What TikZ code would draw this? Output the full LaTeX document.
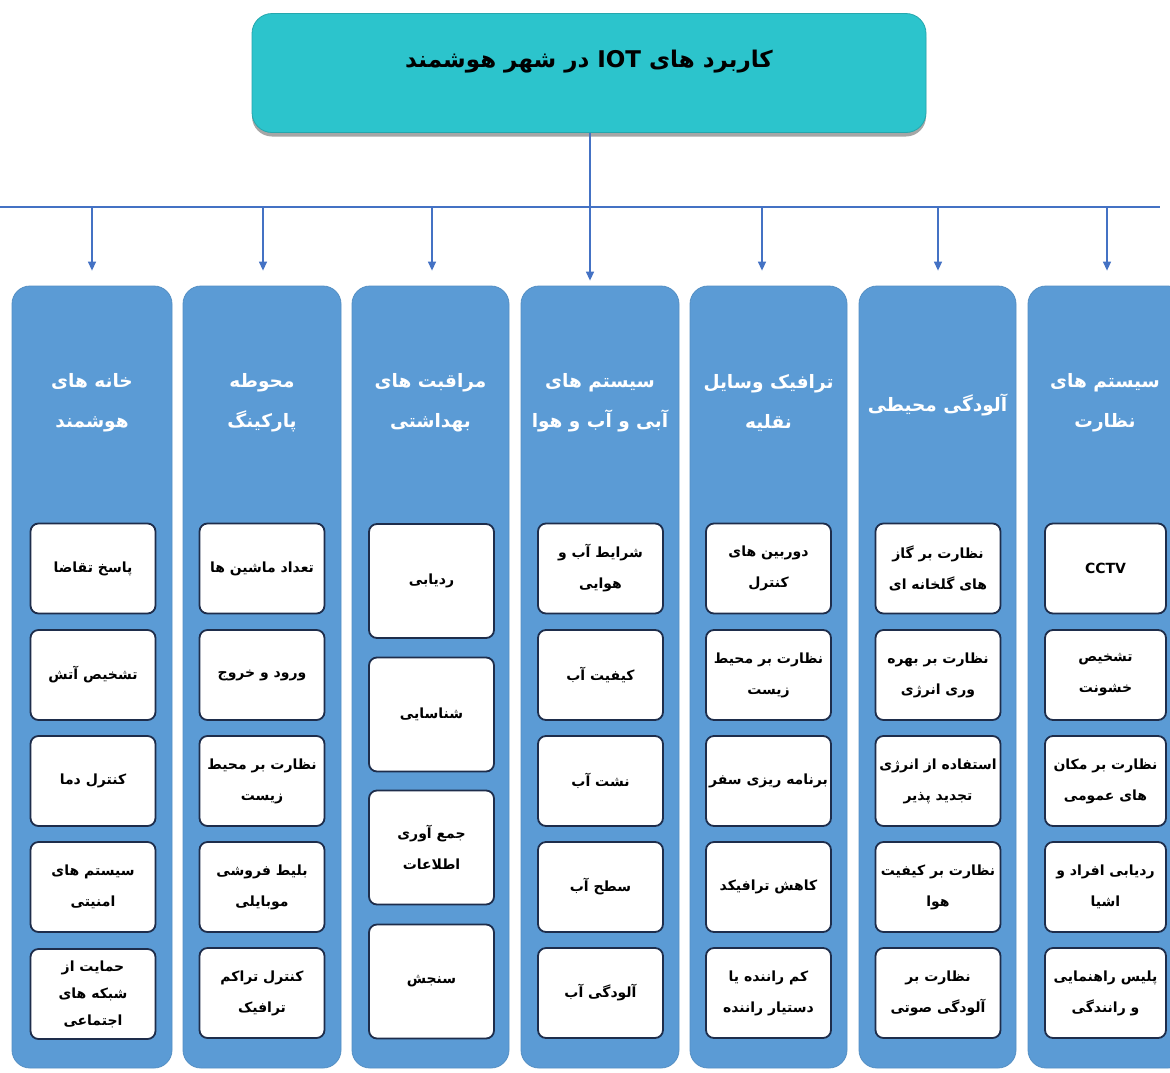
\documentclass[tikz,border=0pt]{standalone}
\usepackage{fontspec}
\usetikzlibrary{arrows.meta,shadows}
\TeXXeTstate=1
\newfontfamily\fafont[Script=Arabic]{DejaVu Sans}
\newcommand{\rl}[1]{\beginR #1\endR}
\definecolor{titlefill}{RGB}{44,196,204}
\definecolor{colfill}{RGB}{91,155,213}
\definecolor{arrowc}{RGB}{68,114,196}
\definecolor{boxline}{RGB}{30,45,75}
\begin{document}
\begin{tikzpicture}[x=1pt,y=-1pt,
  titlebox/.style={fill=titlefill, draw=titlefill!85!black, line width=0.8pt, rounded corners=20pt,
    minimum width=674pt, minimum height=119pt, inner sep=0pt,
    drop shadow={shadow xshift=0pt, shadow yshift=-4pt, opacity=0.35, fill=black}},
  titletext/.style={font=\fafont\bfseries\fontsize{23}{28}\selectfont, text=black},
  column/.style={fill=colfill, draw=colfill!92!black, line width=0.8pt, rounded corners=18pt,
    minimum height=782pt, inner sep=0pt},
  header/.style={font=\fafont\bfseries\fontsize{18.5}{40}\selectfont, text=white, align=center},
  item/.style={fill=white, draw=boxline, line width=1.8pt, rounded corners=8pt,
    minimum width=125pt, minimum height=90pt, inner sep=2pt, align=center,
    font=\fafont\bfseries\fontsize{14}{31}\selectfont},
  itemtall/.style={item, minimum height=114pt},
  arr/.style={draw=arrowc, line width=1.3pt, -{Triangle[length=9pt,width=8pt]}},
  hline/.style={draw=arrowc, line width=1.3pt}]
\useasboundingbox (0,0) rectangle (1170,1072);
\fill[white] (0,0) rectangle (1170,1072);

% title
\node[titlebox] (T) at (589,73) {};
\node[titletext] (TT) at (589,62) {\rl{کاربرد های \beginL IOT\endL{} در شهر هوشمند}};

% columns
\node[column, minimum width=160pt] (c1) at (92,677) {};
\node[column, minimum width=158pt] (c2) at (262,677) {};
\node[column, minimum width=157pt] (c3) at (430.5,677) {};
\node[column, minimum width=158pt] (c4) at (600,677) {};
\node[column, minimum width=157pt] (c5) at (768.5,677) {};
\node[column, minimum width=157pt] (c6) at (937.5,677) {};
\node[column, minimum width=158pt] (c7) at (1107,677) {};

% connectors
\coordinate (hl) at (0,207);
\coordinate (hr) at (1160,207);
\draw[hline] (hl) -- (hr);
\coordinate (a1) at (92,207);
\coordinate (a2) at (263,207);
\coordinate (a3) at (432,207);
\coordinate (a5) at (762,207);
\coordinate (a6) at (938,207);
\coordinate (a7) at (1107,207);
\foreach \i in {1,2,3,5,6,7}{
  \draw[arr, shorten >=15pt] (a\i) -- (a\i |- c\i.north);
}
\draw[arr, shorten >=5pt] (T.south -| 590,0) -- (590,0 |- c4.north);

% headers
\node[header] (h1) at (92,403) {\rl{خانه های}\\\rl{هوشمند}};
\node[header] (h2) at (262,403) {\rl{محوطه}\\\rl{پارکینگ}};
\node[header] (h3) at (430.5,403) {\rl{مراقبت های}\\\rl{بهداشتی}};
\node[header] (h4) at (600,403) {\rl{سیستم های}\\\rl{آبی و آب و هوا}};
\node[header] (h5) at (768.5,403) {\rl{ترافیک وسایل}\\\rl{نقلیه}};
\node[header] (h6) at (937.5,405) {\rl{آلودگی محیطی}};
\node[header] (h7) at (1105,403) {\rl{سیستم های}\\\rl{نظارت}};

% column 1
\node[item] (b11) at (93,568.5) {\rl{پاسخ تقاضا}};
\node[item] (b12) at (93,675) {\rl{تشخیص آتش}};
\node[item] (b13) at (93,781) {\rl{کنترل دما}};
\node[item] (b14) at (93,887) {\rl{سیستم های}\\\rl{امنیتی}};
\node[item, font=\fafont\bfseries\fontsize{14}{27}\selectfont] (b15) at (93,994) {\rl{حمایت از}\\\rl{شبکه های}\\\rl{اجتماعی}};

% column 2
\node[item] (b21) at (262,568.5) {\rl{تعداد ماشین ها}};
\node[item] (b22) at (262,675) {\rl{ورود و خروج}};
\node[item] (b23) at (262,781) {\rl{نظارت بر محیط}\\\rl{زیست}};
\node[item] (b24) at (262,887) {\rl{بلیط فروشی}\\\rl{موبایلی}};
\node[item] (b25) at (262,993) {\rl{کنترل تراکم}\\\rl{ترافیک}};

% column 3
\node[itemtall] (b31) at (431.5,581) {\rl{ردیابی}};
\node[itemtall] (b32) at (431.5,714.5) {\rl{شناسایی}};
\node[itemtall] (b33) at (431.5,847.5) {\rl{جمع آوری}\\\rl{اطلاعات}};
\node[itemtall] (b34) at (431.5,981.5) {\rl{سنجش}};

% column 4
\node[item] (b41) at (600.5,568.5) {\rl{شرایط آب و}\\\rl{هوایی}};
\node[item] (b42) at (600.5,675) {\rl{کیفیت آب}};
\node[item] (b43) at (600.5,781) {\rl{نشت آب}};
\node[item] (b44) at (600.5,887) {\rl{سطح آب}};
\node[item] (b45) at (600.5,993) {\rl{آلودگی آب}};

% column 5
\node[item] (b51) at (768.5,568.5) {\rl{دوربین های}\\\rl{کنترل}};
\node[item] (b52) at (768.5,675) {\rl{نظارت بر محیط}\\\rl{زیست}};
\node[item] (b53) at (768.5,781) {\rl{برنامه ریزی سفر}};
\node[item] (b54) at (768.5,887) {\rl{کاهش ترافیکد}};
\node[item] (b55) at (768.5,993) {\rl{کم راننده یا}\\\rl{دستیار راننده}};

% column 6
\node[item] (b61) at (938,568.5) {\rl{نظارت بر گاز}\\\rl{های گلخانه ای}};
\node[item] (b62) at (938,675) {\rl{نظارت بر بهره}\\\rl{وری انرژی}};
\node[item] (b63) at (938,781) {\rl{استفاده از انرژی}\\\rl{تجدید پذیر}};
\node[item] (b64) at (938,887) {\rl{نظارت بر کیفیت}\\\rl{هوا}};
\node[item] (b65) at (938,993) {\rl{نظارت بر}\\\rl{آلودگی صوتی}};

% column 7
\node[item, minimum width=121pt] (b71) at (1105.5,568.5) {CCTV};
\node[item, minimum width=121pt] (b72) at (1105.5,675) {\rl{تشخیص}\\\rl{خشونت}};
\node[item, minimum width=121pt] (b73) at (1105.5,781) {\rl{نظارت بر مکان}\\\rl{های عمومی}};
\node[item, minimum width=121pt] (b74) at (1105.5,887) {\rl{ردیابی افراد و}\\\rl{اشیا}};
\node[item, minimum width=121pt] (b75) at (1105.5,993) {\rl{پلیس راهنمایی}\\\rl{و رانندگی}};
\end{tikzpicture}
\end{document}
